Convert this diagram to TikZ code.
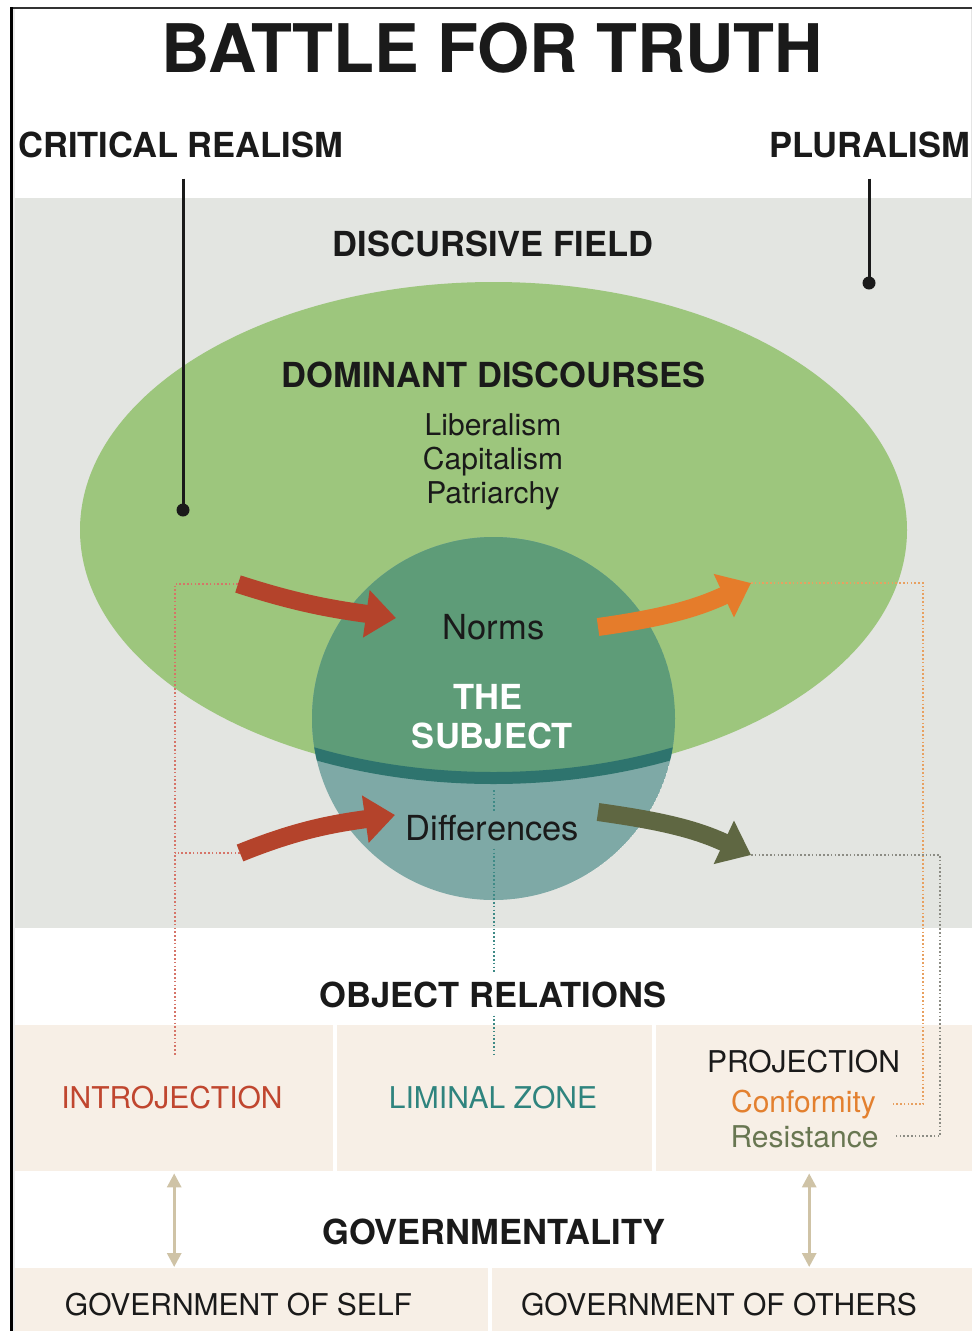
\documentclass[tikz,border=0pt]{standalone}
\usepackage{fontspec}
\setmainfont{TeX Gyre Heros}
\usetikzlibrary{arrows.meta}
\definecolor{fieldgray}{HTML}{E3E5E1}
\definecolor{domgreen}{HTML}{9DC67D}
\definecolor{normgreen}{HTML}{5E9C78}
\definecolor{diffteal}{HTML}{7EA9A6}
\definecolor{bandteal}{HTML}{2E746E}
\definecolor{introred}{HTML}{B4432B}
\definecolor{confo}{HTML}{E57C2B}
\definecolor{resolive}{HTML}{5F6742}
\definecolor{cellbeige}{HTML}{F7EFE6}
\definecolor{govtan}{HTML}{CFC3A6}
\definecolor{introtext}{HTML}{C0462F}
\definecolor{limtext}{HTML}{2F847E}
\definecolor{conftext}{HTML}{E3802F}
\definecolor{restext}{HTML}{687651}
\definecolor{dotred}{HTML}{D67468}
\definecolor{dotteal}{HTML}{3E8A86}
\definecolor{dotorange}{HTML}{E8A060}
\definecolor{dotgray}{HTML}{8C8C84}
\definecolor{ink}{HTML}{1A1A1A}

\begin{document}
\begin{tikzpicture}[x=1pt,y=1pt]
\tikzstyle{heading}=[font=\fontsize{34.5}{40}\selectfont\bfseries,text=ink,inner sep=0,anchor=base]
\tikzstyle{body}=[font=\fontsize{30}{34}\selectfont,text=ink,inner sep=0,anchor=base]
\tikzstyle{zonetext}=[font=\fontsize{34.5}{40}\selectfont,text=ink,inner sep=0,anchor=base]
\tikzstyle{cell}=[fill=cellbeige,draw=none,inner sep=0,anchor=north west]
\tikzstyle{pole}=[line width=3pt,ink]
\tikzstyle{flow}=[line width=18pt,-{Triangle[width=46pt,length=30pt]}]
\tikzstyle{trace}=[line width=2pt,dash pattern=on 1.6pt off 2.2pt]
\tikzstyle{link}=[line width=3pt,govtan,{Triangle[width=14pt,length=14pt]}-{Triangle[width=14pt,length=14pt]},shorten <=2pt,shorten >=1pt]

\useasboundingbox (0,0) rectangle (972,-1331);
\fill[white] (0,0) rectangle (972,-1331);

\fill[fieldgray] (15,-198) rectangle (972,-928);
\node[cell,minimum width=318pt,minimum height=146pt] (introcell) at (15,-1025) {};
\node[cell,minimum width=315pt,minimum height=146pt] (limcell) at (337,-1025) {};
\node[cell,minimum width=316pt,minimum height=146pt] (projcell) at (656,-1025) {};
\node[cell,minimum width=473pt,minimum height=63pt] (selfcell) at (15,-1268) {};
\node[cell,minimum width=480pt,minimum height=63pt] (otherscell) at (492,-1268) {};

\fill[gray!15] (12.5,-9) rectangle (15,-1331);
\draw[black!80,line width=2pt] (11,-8) -- (972,-8);
\draw[black,line width=2.5pt] (11.5,-7) -- (11.5,-1331);
\draw[gray!20,line width=1pt] (971,-9) -- (971,-198);

\fill[domgreen] (493.5,-530) ellipse (413.5 and 248);
\begin{scope}
\clip (493.5,-718.5) circle (181.5);
\fill[diffteal] (493.5,-718.5) circle (181.5);
\fill[normgreen] (493.5,-530) ellipse (413.5 and 248);
\draw[bandteal,line width=12pt] (493.5,-530) ellipse (413.5 and 248);
\end{scope}

\node[font=\fontsize{67}{72}\selectfont\bfseries,text=ink,inner sep=0,anchor=base] (title) at (492.5,-72) {BATTLE FOR TRUTH};
\node[heading,anchor=base west] (crit) at (18,-157) {CRITICAL REALISM};
\node[heading,anchor=base east] (plur) at (970,-157) {PLURALISM};
\node[heading] (field) at (493,-256) {DISCURSIVE FIELD};
\node[heading] (dom) at (493.5,-387) {DOMINANT DISCOURSES};
\node[body] (lib) at (493,-435) {Liberalism};
\node[body] (cap) at (493,-469) {Capitalism};
\node[body] (pat) at (493,-503) {Patriarchy};
\node[zonetext] (norms) at (493.5,-639) {Norms};
\node[heading,text=white] (the) at (488,-709) {THE};
\node[heading,text=white] (subj) at (492.5,-748) {SUBJECT};
\node[zonetext] (diff) at (492.5,-840) {Differences};
\node[heading] (objrel) at (493,-1007) {OBJECT RELATIONS};
\node[body,text=introtext] (intro) at (172,-1108.5) {INTROJECTION};
\node[body,text=limtext] (liminal) at (493,-1108.5) {LIMINAL ZONE};
\node[body] (proj) at (803.5,-1072.5) {PROJECTION};
\node[body,text=conftext] (conf) at (803.5,-1112) {Conformity};
\node[body,text=restext] (resist) at (804.5,-1147) {Resistance};
\node[heading] (gov) at (494,-1244) {GOVERNMENTALITY};
\node[body] (self) at (238.5,-1315) {GOVERNMENT OF SELF};
\node[body] (others) at (719,-1315) {GOVERNMENT OF OTHERS};

\coordinate (critend) at (183,-510);
\coordinate (plurend) at (869,-283);
\draw[pole] ([yshift=-21pt]crit.south -| critend) -- (critend);
\draw[pole] ([yshift=-21pt]plur.south -| plurend) -- (plurend);
\fill[ink] (critend) circle (6.5);
\fill[ink] (plurend) circle (6.5);

\coordinate (nin0) at (238,-584);
\coordinate (nin1) at (396,-618);
\coordinate (nout0) at (598,-627);
\coordinate (nout1) at (751,-583);
\coordinate (din0) at (240,-853);
\coordinate (din1) at (395,-815);
\coordinate (dout0) at (598,-812);
\coordinate (dout1) at (751,-855);
\coordinate (introend) at (175,-1055);
\coordinate (bandpt) at (494,-790);
\coordinate (limend) at (494,-1057);
\coordinate (confend) at ([xshift=17pt]conf.east);
\coordinate (resend) at ([xshift=15pt]resist.east);

\draw[trace,dotred] (nin0) -| (introend);
\draw[trace,dotred] (din0) -- (din0 -| introend);
\draw[trace,dotteal] (bandpt) -- ([yshift=3pt]diff.north -| bandpt);
\draw[trace,dotteal] ([yshift=-8pt]diff.south -| bandpt) -- ([yshift=8pt]objrel.north -| bandpt);
\draw[trace,dotteal] ([yshift=-8pt]objrel.south -| bandpt) -- (limend);
\draw[trace,dotorange] (nout1) -- ++(172,0) |- (confend);
\draw[trace,dotgray] (dout1) -- ++(189,0) |- (resend);

\draw[flow,introred] (nin0) to[out=-18,in=172] (nin1);
\draw[flow,confo] (nout0) to[out=8,in=205] (nout1);
\draw[flow,introred] (din0) to[out=22,in=188] (din1);
\draw[flow,resolive] (dout0) to[out=-8,in=155] (dout1);

\draw[link] (introcell.south) -- (introcell.south |- selfcell.north);
\draw[link] ([xshift=-5pt]projcell.south) -- ([xshift=-5pt]projcell.south |- otherscell.north);
\end{tikzpicture}
\end{document}
